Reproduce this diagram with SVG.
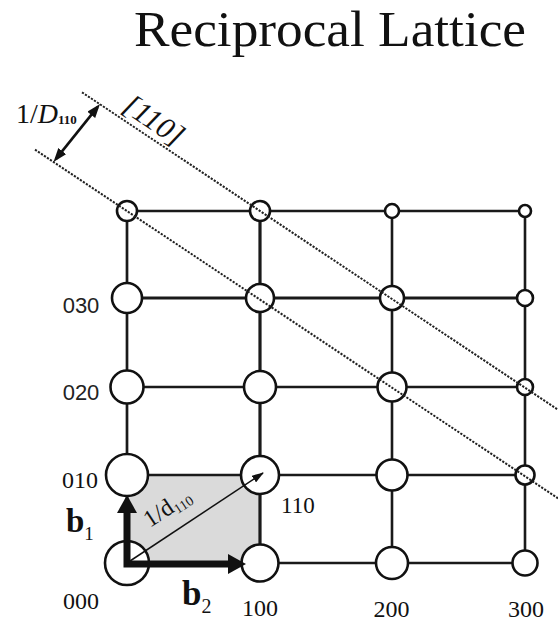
<svg xmlns="http://www.w3.org/2000/svg" width="558" height="623" viewBox="0 0 558 623">
<defs>
<style>
.serif{font-family:"Liberation Serif","Times New Roman",serif;fill:#111}
.sans{font-family:"Liberation Sans",Arial,sans-serif;fill:#222}
.lbl{font-size:24px}
.grid{stroke:#1a1a1a;fill:none}
.pt{fill:#fff;stroke:#111;stroke-width:2.6}
.dot{stroke:#222;stroke-width:2;stroke-dasharray:2.2 1.4;fill:none}
</style>
<marker id="big" markerUnits="userSpaceOnUse" viewBox="0 0 18 20" markerWidth="18" markerHeight="20" refX="1" refY="10" orient="auto-start-reverse">
<path d="M0,0 L18,10 L0,20 z" fill="#111"/>
</marker>
<marker id="small" markerUnits="userSpaceOnUse" viewBox="0 0 12 8" markerWidth="12" markerHeight="8" refX="11" refY="4" orient="auto">
<path d="M0,0 L12,4 L0,8 z" fill="#111"/>
</marker>
<marker id="mid" markerUnits="userSpaceOnUse" viewBox="0 0 14 10" markerWidth="14" markerHeight="10" refX="10" refY="5" orient="auto-start-reverse">
<path d="M0,0 L14,5 L0,10 z" fill="#111"/>
</marker>
</defs>
<rect width="558" height="623" fill="#fff"/>
<text class="serif" x="330" y="46" font-size="51" text-anchor="middle" textLength="392" lengthAdjust="spacingAndGlyphs">Reciprocal Lattice</text>
<rect id="cell" x="127" y="475" width="133" height="88" fill="#dadada"/>
<g id="connectors">
<g class="grid">
<line x1="127" y1="211" x2="525" y2="211" stroke-width="2.6"/>
<line x1="127" y1="298" x2="525" y2="298" stroke-width="3.2"/>
<line x1="127" y1="387" x2="525" y2="387" stroke-width="2.4"/>
<line x1="127" y1="475" x2="525" y2="475" stroke-width="2.5"/>
<line x1="127" y1="563" x2="525" y2="563" stroke-width="2.5"/>
<line x1="127" y1="211" x2="127" y2="563" stroke-width="2.7"/>
<line x1="260" y1="211" x2="260" y2="563" stroke-width="3.2"/>
<line x1="392" y1="211" x2="392" y2="563" stroke-width="2.6"/>
<line x1="525" y1="211" x2="525" y2="563" stroke-width="2.6"/>
</g>
</g>
<g id="nodes">
<g id="n000"><circle class="pt" cx="127" cy="563" r="22"/><text class="serif lbl" x="81" y="609" text-anchor="middle">000</text></g>
<g id="n100"><circle class="pt" cx="260" cy="563" r="18.5"/><text class="serif lbl" x="260" y="616" text-anchor="middle">100</text></g>
<g id="n200"><circle class="pt" cx="392" cy="563" r="16"/><text class="serif lbl" x="391.5" y="617" text-anchor="middle">200</text></g>
<g id="n300"><circle class="pt" cx="525" cy="563" r="12.5"/><text class="serif lbl" x="526" y="617" text-anchor="middle">300</text></g>
<g id="n010"><circle class="pt" cx="127" cy="475" r="21"/><text class="serif lbl" x="80" y="488" text-anchor="middle">010</text></g>
<g id="n110"><circle class="pt" cx="260" cy="475" r="19"/><text class="serif" x="281" y="513" font-size="23">110</text></g>
<g id="n210"><circle class="pt" cx="392" cy="475" r="15.5"/></g>
<g id="n310"><circle class="pt" cx="525" cy="475" r="9.5"/></g>
<g id="n020"><circle class="pt" cx="127" cy="387" r="16.5"/><text class="sans" x="81" y="400" font-size="22" text-anchor="middle">020</text></g>
<g id="n120"><circle class="pt" cx="260" cy="387" r="16"/></g>
<g id="n220"><circle class="pt" cx="392" cy="387" r="14.5"/></g>
<g id="n320"><circle class="pt" cx="525" cy="387" r="8"/></g>
<g id="n030"><circle class="pt" cx="127" cy="298" r="15"/><text class="sans" x="81" y="313" font-size="22" text-anchor="middle">030</text></g>
<g id="n130"><circle class="pt" cx="260" cy="298" r="14"/></g>
<g id="n230"><circle class="pt" cx="392" cy="298" r="12"/></g>
<g id="n330"><circle class="pt" cx="525" cy="298" r="8"/></g>
<g id="n040"><circle class="pt" cx="127" cy="211" r="10"/></g>
<g id="n140"><circle class="pt" cx="260" cy="211" r="10"/></g>
<g id="n240"><circle class="pt" cx="392" cy="211" r="7"/></g>
<g id="n340"><circle class="pt" cx="525" cy="211" r="6"/></g>
</g>
<g id="planes">
<line class="dot" x1="82" y1="92.3" x2="558" y2="409.7"/>
<line class="dot" x1="35" y1="149.7" x2="558" y2="498.3"/>
<text class="serif" font-size="30" font-style="italic" transform="translate(121,110) rotate(33.7)">[110]</text>
<line x1="56" y1="158.9" x2="97.5" y2="107.1" stroke="#111" stroke-width="2.6" marker-start="url(#mid)" marker-end="url(#mid)"/>
<text class="serif" x="16" y="123" font-size="28">1/<tspan font-style="italic">D</tspan><tspan font-size="13" font-weight="bold" dy="1">110</tspan></text>
</g>
<g id="vectors">
<path d="M127,512 V564 H229" fill="none" stroke="#111" stroke-width="7" stroke-linejoin="miter" marker-start="url(#big)" marker-end="url(#big)"/>
<line x1="127" y1="563" x2="263" y2="473" stroke="#111" stroke-width="1.5" marker-end="url(#small)"/>
<text class="serif" font-size="24" transform="translate(150,528) rotate(-33.7)">1/d<tspan font-size="14" dy="4">110</tspan></text>
<text class="serif" x="66" y="532" font-size="33" font-weight="bold">b<tspan font-size="19" font-weight="normal" dy="8">1</tspan></text>
<text class="serif" x="182" y="605" font-size="35" font-weight="bold">b<tspan font-size="20" font-weight="normal" dy="8">2</tspan></text>
</g>
</svg>
